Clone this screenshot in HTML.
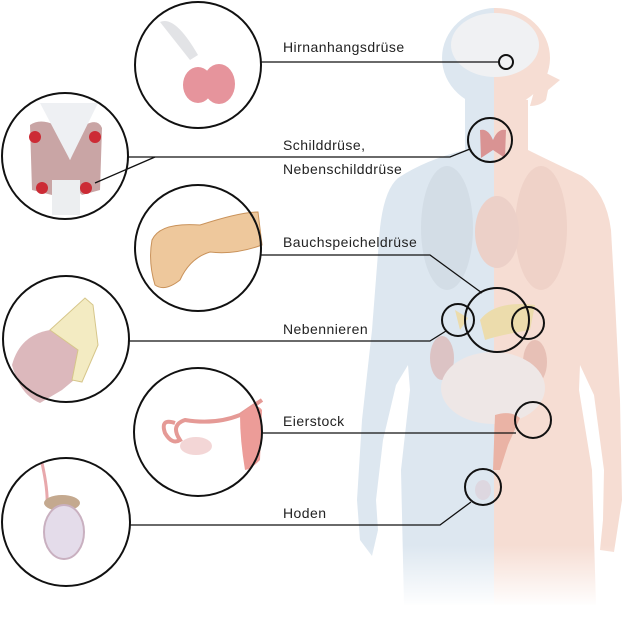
<!DOCTYPE html>
<html><head><meta charset="utf-8"><style>
html,body{margin:0;padding:0;background:#fff;width:628px;height:622px;overflow:hidden}
svg{display:block}
text{font-family:"Liberation Sans",sans-serif;font-size:14px;letter-spacing:0.45px;fill:#222}
</style></head><body>
<svg width="628" height="622" viewBox="0 0 628 622">
<defs>
<clipPath id="L"><rect x="0" y="0" width="494" height="622"/></clipPath>
<clipPath id="R"><rect x="494" y="0" width="140" height="622"/></clipPath>
<linearGradient id="fade" x1="0" y1="0" x2="0" y2="1">
<stop offset="0" stop-color="#fff" stop-opacity="0"/><stop offset="1" stop-color="#fff" stop-opacity="1"/>
</linearGradient>
<g id="body">
<ellipse cx="496" cy="58" rx="54" ry="50"/>
<path d="M540 70 L560 80 L548 90 L546 100 Q540 106 530 106 Z"/>
<path d="M465 92 L465 150 Q425 160 398 178 Q382 192 379 240 L372 330 L362 420 L357 500 L360 540 L372 556 L378 530 L376 500 L383 440 L396 385 L408 365 L410 390 L401 470 L404 605 L596 605 L592 470 L579 390 L580 365 L594 395 L604 470 L603 520 L600 550 L614 552 L622 500 L620 400 L615 300 L611 230 Q606 192 582 176 Q548 160 528 150 L528 100 Z"/>
</g>
</defs>
<g clip-path="url(#L)" fill="#dde7f0"><use href="#body"/></g>
<g clip-path="url(#R)" fill="#f6ddd3"><use href="#body"/></g>
<!-- inner organs -->
<ellipse cx="495" cy="45" rx="44" ry="32" fill="#f0f1f3"/>
<ellipse cx="447" cy="228" rx="26" ry="62" fill="#d3dde6"/>
<ellipse cx="541" cy="228" rx="26" ry="62" fill="#efd2c8"/>
<ellipse cx="497" cy="232" rx="22" ry="36" fill="#ecd0c8"/>
<path d="M480 130 Q488 128 493 140 Q498 128 506 130 L505 158 L493 150 L481 158 Z" fill="#d99393"/>
<ellipse cx="442" cy="358" rx="12" ry="22" fill="#dcc3c4"/>
<ellipse cx="535" cy="362" rx="12" ry="22" fill="#e7c0b6"/>
<ellipse cx="493" cy="388" rx="52" ry="36" fill="#eee7e6"/>
<path d="M480 320 Q495 300 535 305 L530 330 Q500 335 485 340 Z" fill="#ecdcac"/>
<path d="M455 310 L468 318 L460 330 Z" fill="#ecdcac"/>
<path d="M495 415 Q510 410 520 418 L508 445 L500 470 L493 470 Z" fill="#eab3a5"/>
<ellipse cx="483" cy="490" rx="8" ry="10" fill="#ddd7e0"/>
<rect x="350" y="545" width="280" height="62" fill="url(#fade)"/>
<rect x="350" y="605" width="280" height="20" fill="#fff"/>

<!-- callout illustrations -->
<path d="M160 22 Q175 15 198 55 L190 60 Z" fill="#e2e3e6"/>
<ellipse cx="198" cy="85" rx="15" ry="18" fill="#e6949c"/>
<ellipse cx="219" cy="84" rx="16" ry="20" fill="#e6949c"/>

<path d="M30 125 Q40 118 55 125 L70 160 L85 125 Q98 118 102 128 L100 190 L82 195 L67 180 L52 195 L32 190 Z" fill="#c9a5a5"/>
<path d="M40 103 L98 103 L70 160 Z" fill="#eef0f3"/>
<rect x="52" y="180" width="28" height="35" fill="#eceef0"/>
<circle cx="35" cy="137" r="6" fill="#cc2b35"/><circle cx="95" cy="137" r="6" fill="#cc2b35"/>
<circle cx="42" cy="188" r="6" fill="#cc2b35"/><circle cx="86" cy="188" r="6" fill="#cc2b35"/>

<path d="M152 240 Q160 222 200 225 Q240 212 258 212 L262 245 Q235 255 210 252 Q190 258 180 280 Q165 292 155 285 Q148 262 152 240Z" fill="#eec89c" stroke="#c9925a" stroke-width="1"/>

<path d="M12 365 Q20 335 50 330 L80 340 L80 375 L62 390 L40 403 Q20 395 12 365Z" fill="#dcb8bc"/>
<path d="M50 330 L85 298 L93 305 L98 345 L82 382 L72 380 L78 350 Z" fill="#f3ebc2" stroke="#d6c68a" stroke-width="1"/>

<path d="M175 423 Q160 418 165 433 Q172 445 180 440 Q170 425 185 420 Q215 425 240 415 L262 400" stroke="#e59a96" stroke-width="4" fill="none"/>
<ellipse cx="196" cy="446" rx="16" ry="9" fill="#f3d6d6"/>
<path d="M240 415 Q255 400 262 410 L260 460 Q250 470 245 470 Q240 440 240 415Z" fill="#ec9c98"/>

<path d="M42 463 Q48 490 47 505" stroke="#e8a8ac" stroke-width="3" fill="none"/>
<ellipse cx="62" cy="503" rx="18" ry="8" fill="#c4a98f"/>
<ellipse cx="64" cy="532" rx="20" ry="27" fill="#e4dcea" stroke="#c9b0c0" stroke-width="2"/>

<!-- callout circles -->
<g fill="none" stroke="#111" stroke-width="2">
<circle cx="198" cy="65" r="63"/>
<circle cx="65" cy="156" r="63"/>
<circle cx="198" cy="248" r="63"/>
<circle cx="66" cy="339" r="63"/>
<circle cx="198" cy="432" r="64"/>
<circle cx="66" cy="522" r="64"/>
<circle cx="506" cy="62" r="7"/>
<circle cx="490" cy="140" r="22"/>
<circle cx="497" cy="320" r="32"/>
<circle cx="458" cy="320" r="16"/>
<circle cx="528" cy="323" r="16"/>
<circle cx="533" cy="420" r="18"/>
<circle cx="483" cy="487" r="18"/>
</g>
<g stroke="#111" stroke-width="1.3" fill="none">
<path d="M261 62 L499 62"/>
<path d="M128 157 L450 157 L470 149"/>
<path d="M155 157 L95 183"/>
<path d="M261 255 L430 255 L482 293"/>
<path d="M129 341 L430 341 L446 331"/>
<path d="M262 433 L516 433"/>
<path d="M130 525 L440 525 L471 502"/>
</g>
<text x="283" y="52">Hirnanhangsdrüse</text>
<text x="283" y="150">Schilddrüse,</text>
<text x="283" y="174">Nebenschilddrüse</text>
<text x="283" y="247">Bauchspeicheldrüse</text>
<text x="283" y="334">Nebennieren</text>
<text x="283" y="426">Eierstock</text>
<text x="283" y="518">Hoden</text>
</svg>
</body></html>
